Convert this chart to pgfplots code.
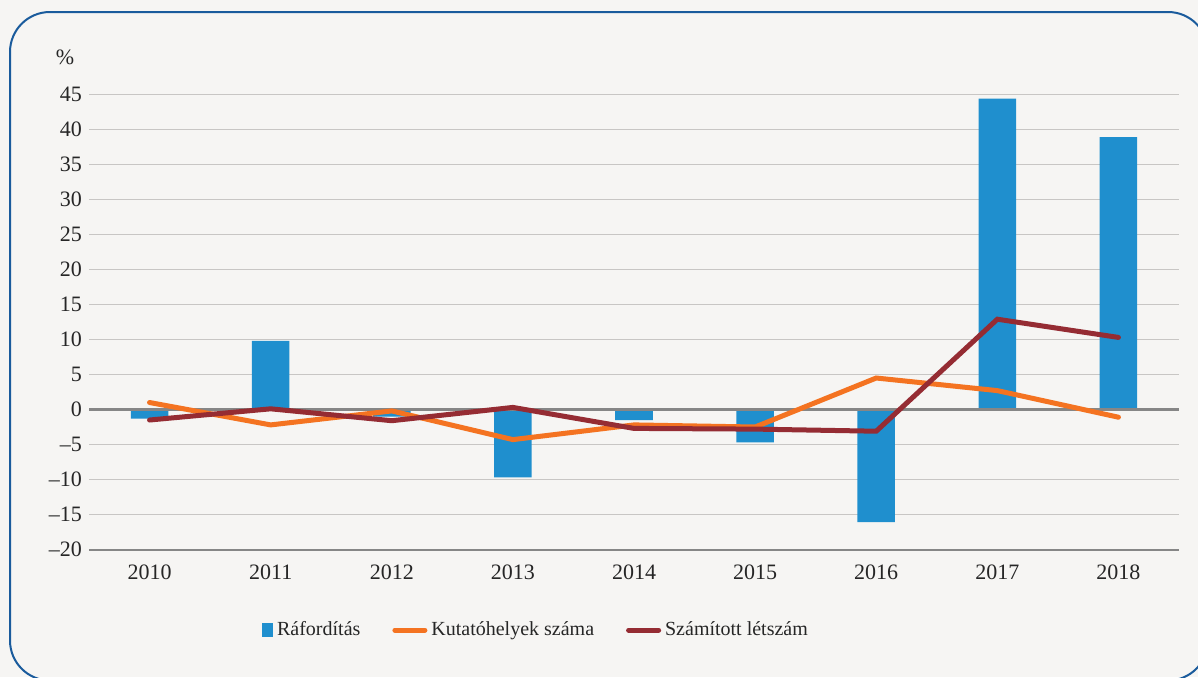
\documentclass[border=0pt]{standalone}
\usepackage{pgfplots}
\pgfplotsset{compat=1.18}
\usepackage{fontspec}
\setmainfont{Liberation Serif}
\definecolor{bgc}{HTML}{F6F5F3}
\definecolor{bordc}{HTML}{1A5B9C}
\definecolor{barc}{HTML}{1F8FCE}
\definecolor{orc}{HTML}{F47321}
\definecolor{redc}{HTML}{952C33}
\definecolor{gridc}{HTML}{C8C6C4}
\definecolor{axc}{HTML}{868686}
\begin{document}
\begin{tikzpicture}
\useasboundingbox (0,0) rectangle (599pt,338.5pt);
\fill[bgc] (0,0) rectangle (599pt,338.5pt);
\draw[bordc, line width=1pt, rounded corners=20pt] (5pt,-1.75pt) rectangle (604pt,332.5pt);
\begin{axis}[
  at={(44.5pt,63.75pt)}, anchor=south west,
  scale only axis, width=545pt, height=227.5pt,
  xmin=-0.5, xmax=8.5, ymin=-20, ymax=45,
  clip=false,
  axis lines*=left,
  y axis line style={draw=none},
  x axis line style={color=axc, line width=1pt},
  ytick={-20,-15,...,45},
  yticklabels={\textendash20,\textendash15,\textendash10,\textendash5,0,5,10,15,20,25,30,35,40,45},
  ytick style={draw=none},
  ymajorgrids,
  grid style={color=gridc, line width=0.8pt},
  xtick={0,...,8},
  xticklabels={2010,2011,2012,2013,2014,2015,2016,2017,2018},
  major x tick style={draw=none},
  extra x ticks={-0.5,0.5,...,8.5},
  extra x tick labels={},
  extra x tick style={major tick length=6pt, tick align=outside, tick style={draw=axc, line width=1pt}},
  ticklabel style={font=\rmfamily\fontsize{11}{13}\selectfont, text=black!85},
  xticklabel style={yshift=-4pt},
  legend columns=3,
  legend style={at={(0.411,-0.177)}, anchor=center, draw=none, fill=none,
    font=\rmfamily\fontsize{10}{12}\selectfont, text=black!85,
    /tikz/every even column/.append style={column sep=14pt}},
]
\addplot[ybar, bar shift=0pt, bar width=0.31, fill=barc, draw=none,
  legend image code/.code={\fill[barc] (0pt,-3.5pt) rectangle (5.5pt,3.5pt);}]
  coordinates {(0,-1.3) (1,9.8) (2,-1.0) (3,-9.7) (4,-1.5) (5,-4.7) (6,-16.1) (7,44.4) (8,38.9)};
\addlegendentry{Ráfordítás}
\draw[axc, line width=1.3pt] (axis cs:-0.5,0) -- (axis cs:8.5,0);
\addplot[orc, line width=2.5pt, line cap=round, line join=miter, mark=none,
  legend image code/.code={\draw[orc, line width=2.5pt, line cap=round] (0pt,0pt) -- (15pt,0pt);}]
  coordinates {(0,1.0) (1,-2.2) (2,-0.2) (3,-4.3) (4,-2.2) (5,-2.5) (6,4.5) (7,2.7) (8,-1.1)};
\addlegendentry{Kutatóhelyek száma}
\addplot[redc, line width=2.5pt, line cap=round, line join=miter, mark=none,
  legend image code/.code={\draw[redc, line width=2.5pt, line cap=round] (0pt,0pt) -- (15pt,0pt);}]
  coordinates {(0,-1.5) (1,0.1) (2,-1.6) (3,0.3) (4,-2.7) (5,-2.8) (6,-3.1) (7,12.9) (8,10.3)};
\addlegendentry{Számított létszám}
\node[font=\rmfamily\fontsize{11}{13}\selectfont, text=black!85] at (axis description cs:-0.022,1.082) {\%};
\end{axis}
\end{tikzpicture}
\end{document}
